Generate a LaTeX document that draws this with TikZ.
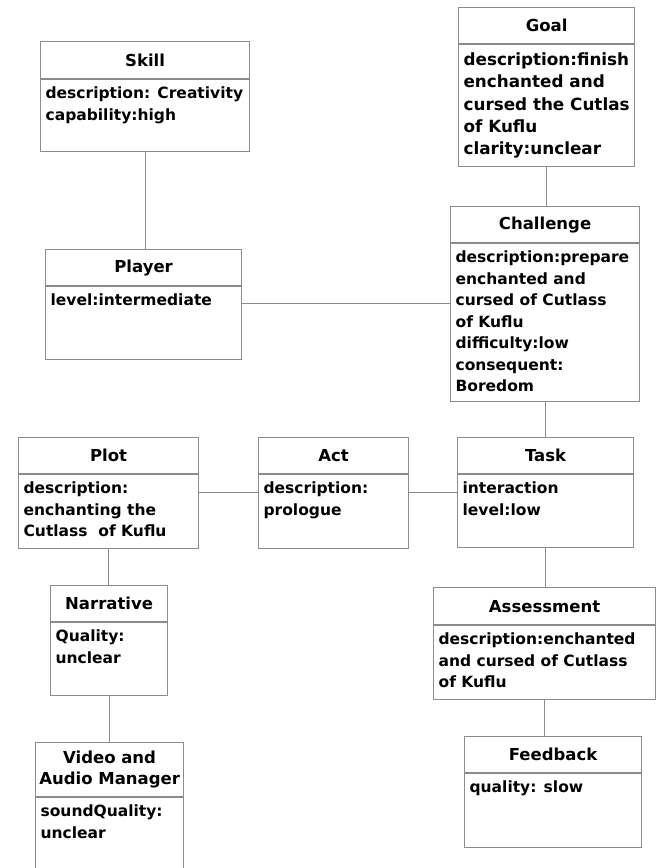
\documentclass[tikz,border=0pt]{standalone}
\usepackage{fontspec}
\setmainfont{DejaVu Sans}
\definecolor{boxgray}{HTML}{8C8C8C}
\tikzstyle{hd}=[rectangle,draw=boxgray,line width=1.2pt,anchor=north west,inner sep=0pt,align=center,font=\fontsize{16.5}{21}\selectfont\bfseries]
\tikzstyle{bd}=[rectangle,draw=boxgray,line width=1.2pt,anchor=north west,inner xsep=5pt,inner ysep=7pt,font=\fontsize{15.5}{21.5}\selectfont\bfseries]
\tikzstyle{ln}=[draw=boxgray,line width=1.2pt]

\begin{document}
\begin{tikzpicture}[x=1pt,y=-1pt]
\useasboundingbox (0,0) rectangle (661,868);
% left column
\node[hd,minimum width=209pt,minimum height=37pt] (skill) at (40,41) {Skill};
\node[bd] (skillb) at (skill.south west) {\parbox[t][58pt][t]{199pt}{description: Creativity\\capability:high}};
\node[hd,minimum width=196pt,minimum height=36pt] (player) at (45,249) {Player};
\node[bd] (playerb) at (player.south west) {\parbox[t][59pt][t]{186pt}{level:intermediate}};
\node[hd,minimum width=180pt,minimum height=36pt] (plot) at (18,437) {Plot};
\node[bd] (plotb) at (plot.south west) {\parbox[t][60pt][t]{170pt}{description:\\enchanting the\\Cutlass~ of Kuflu}};
\node[hd,minimum width=117pt,minimum height=36pt] (narr) at (50,585) {Narrative};
\node[bd] (narrb) at (narr.south west) {\parbox[t][59pt][t]{107pt}{Quality:\\unclear}};
\node[hd,minimum width=148pt,minimum height=54pt] (video) at (35,742) {Video and\\Audio Manager};
\node[bd] (videob) at (video.south west) {\parbox[t][62pt][t]{138pt}{soundQuality:\\unclear}};
% middle
\node[hd,minimum width=150pt,minimum height=36pt] (act) at (258,437) {Act};
\node[bd] (actb) at (act.south west) {\parbox[t][60pt][t]{140pt}{description:\\prologue}};
% right column
\node[hd,minimum width=176pt,minimum height=36pt] (goal) at (458,7) {Goal};
\node[bd,inner ysep=8pt,font=\fontsize{16.8}{22.3}\selectfont\bfseries] (goalb) at (goal.south west) {\parbox[t][106pt][t]{166pt}{description:finish\\enchanted and\\cursed the Cutlas\\of Kuflu\\clarity:unclear}};
\node[hd,minimum width=189pt,minimum height=36pt] (chal) at (450,206) {Challenge};
\node[bd] (chalb) at (chal.south west) {\parbox[t][144pt][t]{179pt}{description:prepare\\enchanted and\\cursed of Cutlass\\of Kuflu\\difficulty:low\\consequent:\\Boredom}};
\node[hd,minimum width=176pt,minimum height=36pt] (task) at (457,437) {Task};
\node[bd] (taskb) at (task.south west) {\parbox[t][59pt][t]{166pt}{interaction\\level:low}};
\node[hd,minimum width=222pt,minimum height=37pt] (assess) at (433,587) {Assessment};
\node[bd] (assessb) at (assess.south west) {\parbox[t][60pt][t]{212pt}{description:enchanted\\and cursed of Cutlass\\of Kuflu}};
\node[hd,minimum width=177pt,minimum height=36pt] (feedback) at (464,736) {Feedback};
\node[bd] (feedbackb) at (feedback.south west) {\parbox[t][60pt][t]{167pt}{quality: slow}};
% links
\draw[ln] (skillb.south) -- (skillb.south |- player.north);
\draw[ln] (goalb.south) -- (goalb.south |- chal.north);
\draw[ln] ([yshift=-17pt]playerb.north east) -- ([yshift=-17pt]playerb.north east -| chalb.west);
\draw[ln] (chalb.south) -- (chalb.south |- task.north);
\draw[ln] ([yshift=-18pt]plotb.north east) -- ([yshift=-18pt]actb.north west);
\draw[ln] ([yshift=-18pt]actb.north east) -- ([yshift=-18pt]taskb.north west);
\draw[ln] (plotb.south) -- (plotb.south |- narr.north);
\draw[ln] (narrb.south) -- (narrb.south |- video.north);
\draw[ln] (taskb.south) -- (taskb.south |- assess.north);
\draw[ln] (assessb.south) -- (assessb.south |- feedback.north);
\end{tikzpicture}
\end{document}
